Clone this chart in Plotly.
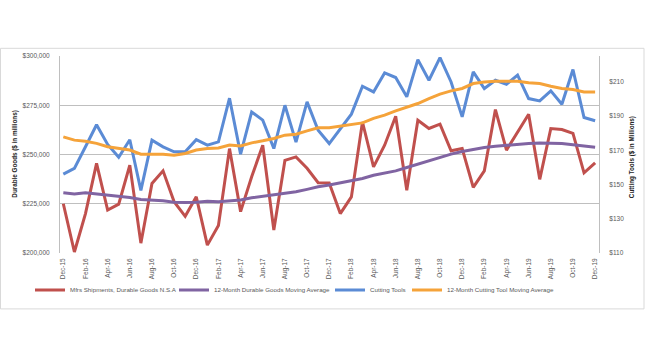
import plotly.graph_objects as go

months = ["Dec-15", "Jan-16", "Feb-16", "Mar-16", "Apr-16", "May-16", "Jun-16", "Jul-16",
          "Aug-16", "Sep-16", "Oct-16", "Nov-16", "Dec-16", "Jan-17", "Feb-17", "Mar-17",
          "Apr-17", "May-17", "Jun-17", "Jul-17", "Aug-17", "Sep-17", "Oct-17", "Nov-17",
          "Dec-17", "Jan-18", "Feb-18", "Mar-18", "Apr-18", "May-18", "Jun-18", "Jul-18",
          "Aug-18", "Sep-18", "Oct-18", "Nov-18", "Dec-18", "Jan-19", "Feb-19", "Mar-19",
          "Apr-19", "May-19", "Jun-19", "Jul-19", "Aug-19", "Sep-19", "Oct-19", "Nov-19",
          "Dec-19"]

mfrs_shipments = [225000, 200500, 220000, 245500, 221800, 224800, 244600, 205000, 235300,
                  241700, 226000, 218600, 228500, 204000, 214000, 253000, 221000, 238700,
                  254700, 211700, 247000, 248800, 243000, 235700, 235600, 220000, 228500,
                  266500, 243700, 254700, 269400, 231900, 267400, 263200, 265400, 251900,
                  253000, 233300, 241700, 272800, 252200, 261500, 270400, 237400, 263200,
                  262700, 260700, 240700, 245800]

durable_ma = [230600, 230000, 230600, 230000, 229200, 228800, 228200, 227200, 226900,
              226500, 225800, 225600, 225800, 226300, 226000, 226500, 226900, 228000,
              228800, 229400, 230300, 231100, 232300, 233600, 234500, 235600, 237000,
              237800, 239500, 240700, 241700, 243400, 245100, 246600, 248500, 250200,
              251500, 252600, 253600, 254200, 254700, 255300, 255600, 255800, 255800,
              255600, 255000, 254400, 253700]

cutting_tools = [156.1, 159.5, 172.1, 185.0, 173.5, 166.0, 176.2, 146.6, 176.0, 172.1,
                 169.2, 169.2, 176.3, 173.1, 175.0, 200.5, 167.8, 192.5, 187.7, 171.1,
                 196.4, 174.8, 198.4, 181.8, 174.0, 182.8, 191.2, 207.5, 204.2, 215.3,
                 212.6, 201.3, 223.1, 211.0, 224.3, 210.0, 189.6, 215.9, 206.2, 211.0,
                 208.7, 214.0, 200.3, 198.9, 204.8, 197.0, 217.3, 189.2, 187.3]

cutting_ma = [177.9, 176.0, 175.4, 174.1, 172.1, 171.1, 170.2, 167.8, 167.8, 167.8,
              167.2, 168.2, 170.2, 171.1, 171.4, 173.1, 172.6, 174.4, 175.6, 177.0,
              178.9, 179.5, 181.4, 183.2, 183.2, 184.2, 185.3, 186.1, 188.7, 190.6,
              193.1, 195.4, 197.4, 200.3, 202.9, 204.8, 206.2, 209.1, 210.0, 210.4,
              210.6, 210.4, 209.5, 209.1, 207.5, 206.2, 205.6, 204.2, 204.2]

right_ticks = [110, 130, 150, 170, 190, 210]

names = ["Mfrs Shipments, Durable Goods N.S.A", "12-Month Durable Goods Moving Average",
         "Cutting Tools", "12-Month Cutting Tool Moving Average"]
colors = ["#C0504D", "#8064A2", "#5B8BD5", "#F5A33A"]

x = list(range(len(months)))
tick_idx = x[::2]
tick_text = months[::2]

FONT = "Liberation Sans, Arial, sans-serif"
TXT = "#595959"

fig = go.Figure()
series = [(mfrs_shipments, "y", "legend"), (durable_ma, "y", "legend2"),
          (cutting_tools, "y2", "legend3"), (cutting_ma, "y2", "legend4")]
for (vals, ax, lg), nm, col in zip(series, names, colors):
    fig.add_trace(go.Scatter(x=x, y=vals, name=nm, mode="lines", yaxis=ax, legend=lg,
                             line=dict(color=col, width=3)))

L, R, T, B = 60, 599, 55.7, 253
W, H = R - L, B - T

def px(p):
    return (p - L) / W

def py(p):
    return (B - p) / H

legend_common = dict(orientation="h", yanchor="middle", xanchor="left", y=py(290),
                     font=dict(family=FONT, size=6.2, color=TXT),
                     bgcolor="rgba(0,0,0,0)", borderwidth=0)

fig.update_layout(
    width=645, height=350,
    margin=dict(l=L, r=645 - R, t=T, b=350 - B),
    paper_bgcolor="white", plot_bgcolor="white",
    font=dict(family=FONT, size=6.5, color=TXT),
    showlegend=True,
    legend=dict(x=px(30), **legend_common),
    legend2=dict(x=px(174), **legend_common),
    legend3=dict(x=px(330), **legend_common),
    legend4=dict(x=px(407), **legend_common),
    xaxis=dict(range=[-0.3, 48.35], tickmode="array", tickvals=tick_idx, ticktext=tick_text,
               tickangle=-90, showgrid=False, zeroline=False, showline=False,
               ticks="", ticklabelstandoff=3,
               tickfont=dict(family=FONT, size=6.5, color=TXT)),
    yaxis=dict(range=[200000, 300000], dtick=25000, tickprefix="$", tickformat=",.0f",
               showgrid=True, gridcolor="#BFBFBF", gridwidth=1, zeroline=False,
               showline=True, linecolor="#BFBFBF", linewidth=1, ticks="",
               ticklabelstandoff=8, tickfont=dict(family=FONT, size=6.5, color=TXT)),
    yaxis2=dict(range=[110, 225.2], tickmode="array", tickvals=right_ticks,
                ticktext=["$" + str(v) for v in right_ticks],
                overlaying="y", side="right", showgrid=False, zeroline=False,
                showline=True, linecolor="#BFBFBF", linewidth=1, ticks="",
                ticklabelstandoff=8, tickfont=dict(family=FONT, size=6.5, color=TXT)),
    annotations=[
        dict(text="<b>Durable Goods ($ in millions)</b>", textangle=-90, xref="paper",
             yref="paper", x=px(15), y=py(154.5), xanchor="center", yanchor="middle",
             showarrow=False, font=dict(family=FONT, size=6.3, color="#262626")),
        dict(text="<b>Cutting Tools ($ in Millions)</b>", textangle=-90, xref="paper",
             yref="paper", x=px(632), y=py(157), xanchor="center", yanchor="middle",
             showarrow=False, font=dict(family=FONT, size=6.3, color="#262626")),
    ],
    shapes=[dict(type="rect", xref="paper", yref="paper", x0=px(0.5), x1=px(644),
                 y0=py(309), y1=py(48), line=dict(color="#D9D9D9", width=1),
                 fillcolor="rgba(0,0,0,0)", layer="below")],
)

fig.write_html("out.html")
